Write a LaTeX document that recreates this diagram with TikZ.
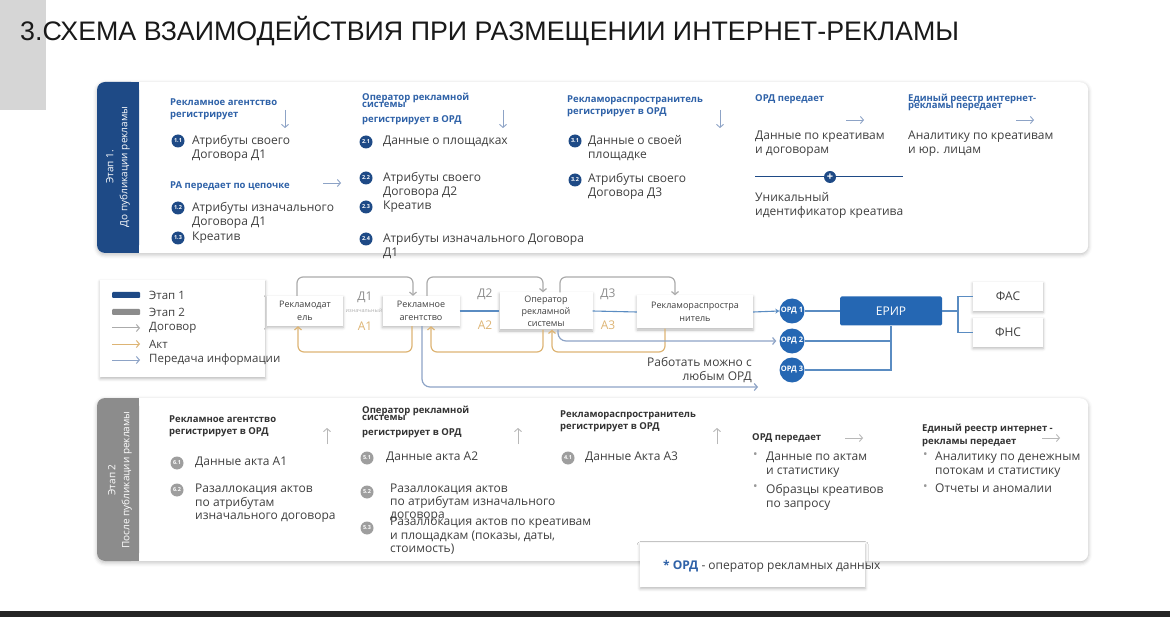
\documentclass[tikz,border=0pt]{standalone}
\usepackage{fontspec}
\setmainfont{Open Sans}
\newfontfamily\titlefont{Liberation Sans}
\usetikzlibrary{arrows.meta, shadows.blur}

\definecolor{navy}{HTML}{1E4A86}
\definecolor{headblue}{HTML}{2F62A8}
\definecolor{erirblue}{HTML}{2567B3}
\definecolor{linkblue}{HTML}{5A8CC2}
\definecolor{infoblue}{HTML}{8DA3C6}
\definecolor{actorange}{HTML}{DDB474}
\definecolor{dealgray}{HTML}{ABABAB}
\definecolor{bodygray}{HTML}{3F3F3F}
\definecolor{tabgray}{HTML}{8C8C8C}

\begin{document}
\begin{tikzpicture}[x=1pt, y=-1pt,
    panel/.style={fill=white, rounded corners=8, anchor=north west, inner sep=0pt,
        blur shadow={shadow xshift=0pt, shadow yshift=-1.5pt, shadow blur radius=4pt, shadow opacity=26}},
    card/.style={fill=white, inner sep=0pt, align=center, text=bodygray,
        font=\fontsize{9}{13}\selectfont,
        blur shadow={shadow xshift=0pt, shadow yshift=-1.5pt, shadow blur radius=3pt, shadow opacity=28}},
    head/.style={anchor=north west, inner sep=0pt, align=left, text=headblue,
        font=\bfseries\fontsize{9.5}{12}\selectfont},
    ghead/.style={head, text=black!80},
    body/.style={anchor=north west, inner sep=0pt, align=left, text=bodygray,
        font=\fontsize{12}{14}\selectfont},
    num/.style={circle, fill=navy, text=white, inner sep=0pt, minimum size=13pt,
        font=\bfseries\fontsize{5.5}{5.5}\selectfont},
    gnum/.style={num, fill=black!38},
    bul/.style={anchor=north west, inner sep=0pt, text=black!40, font=\fontsize{12}{14}\selectfont},
    ordc/.style={circle, fill=erirblue, text=white, inner sep=0pt, minimum size=25pt,
        font=\bfseries\fontsize{7.5}{7.5}\selectfont},
    tag/.style={inner sep=0pt, font=\fontsize{12}{12}\selectfont},
    legtext/.style={anchor=west, inner sep=0pt, text=bodygray, font=\fontsize{11.5}{12}\selectfont},
    deal/.style={draw=dealgray, line width=1.2pt, rounded corners=6, -{Straight Barb[length=3pt, width=7pt]}},
    act/.style={deal, draw=actorange},
    info/.style={deal, draw=infoblue, rounded corners=8},
    link/.style={draw=linkblue, line width=1.1pt},
    hint/.style={draw=#1, line width=0.9pt, -{Straight Barb[length=3pt, width=7pt]}},
    hint/.default={infoblue}
]
\useasboundingbox (0,0) rectangle (1170,620);
\fill[black!16] (0,0) rectangle (46,110);
\fill[black!85] (0,611) rectangle (1170,617);

% title
\node[anchor=west, inner sep=0pt, text=black!90, font=\titlefont\fontsize{26.8}{30}\selectfont]
    (title) at (20,31) {3.СХЕМА ВЗАИМОДЕЙСТВИЯ ПРИ РАЗМЕЩЕНИИ ИНТЕРНЕТ-РЕКЛАМЫ};

% panels
\node[panel, minimum width=991pt, minimum height=171pt] (stageone) at (97,82) {};
\node[panel, minimum width=991pt, minimum height=163pt] (stagetwo) at (97,398) {};
\fill[navy, rounded corners=8] (97,82) rectangle (139,253);
\fill[navy] (125,82) rectangle (139,253);
\fill[tabgray, rounded corners=8] (97,398) rectangle (139,561);
\fill[tabgray] (125,398) rectangle (139,561);
\node[rotate=90, text=white, align=center, font=\fontsize{10}{14}\selectfont]
    (tabone) at (118,167) {Этап 1.\\До публикации рекламы};
\node[rotate=90, text=white, align=center, font=\fontsize{10}{14}\selectfont]
    (tabtwo) at (120,480) {Этап 2\\После публикации рекламы};

% stage 1
\node[head] (hone) at (170,99) {Рекламное агентство\\регистрирует};
\node[num] (n11) at (178,141) {1.1};
\node[body] (t11) at (192,135) {Атрибуты своего\\Договора Д1};
\node[head] (hchain) at (170,181.5) {РА передает по цепочке};
\node[num] (n12) at (178,208) {1.2};
\node[body] (t12) at (192,202) {Атрибуты изначального\\Договора Д1};
\node[num] (n13) at (178,238) {1.3};
\node[body] (t13) at (192,232) {Креатив};

\node[head] (htwo) at (362,92.5) {Оператор рекламной\\[-5pt]системы\\[3pt]регистрирует в ОРД};
\node[num] (n21) at (366,142) {2.1};
\node[body] (t21) at (383,136) {Данные о площадках};
\node[num] (n22) at (366,178) {2.2};
\node[body] (t22) at (383,172) {Атрибуты своего\\Договора Д2};
\node[num] (n23) at (366,207) {2.3};
\node[body] (t23) at (383,201) {Креатив};
\node[num] (n24) at (366,239) {2.4};
\node[body] (t24) at (383,233) {Атрибуты изначального Договора\\Д1};

\node[head] (hthree) at (567,95.5) {Рекламораспространитель\\регистрирует в ОРД};
\node[num] (n31) at (575,141) {3.1};
\node[body] (t31) at (588,135) {Данные о своей\\площадке};
\node[num] (n32) at (575,180) {3.2};
\node[body] (t32) at (588,173) {Атрибуты своего\\Договора Д3};

\node[head] (hfour) at (755,94) {ОРД передает};
\node[body] (t41) at (755,131) {Данные по креативам\\и договорам};
\node[circle, fill=navy, text=white, inner sep=0pt, minimum size=12pt,
    font=\bfseries\fontsize{11}{11}\selectfont] (plus) at (830,177) {+};
\coordinate (uidl) at (755,177);
\coordinate (uidr) at (903,177);
\draw[navy, line width=1pt] (uidl) -- (plus) -- (uidr);
\node[body] (t42) at (755,192) {Уникальный\\идентификатор креатива};

\node[head] (hfive) at (908,93.5) {Единый реестр интернет-\\[-5pt]рекламы передает};
\node[body] (t51) at (908,131) {Аналитику по креативам\\и юр. лицам};

\foreach \x in {285,503,720} \draw[hint] (\x,110) -- (\x,128);
\foreach \x/\y in {323/183,846/120,1016/120} \draw[hint] (\x,\y) -- ++(18,0);

% legend
\node[card, minimum width=165pt, minimum height=97pt, anchor=north west] (legend) at (100,280) {};
\fill[navy, rounded corners=1] (112,292) rectangle (140,298);
\fill[black!45, rounded corners=1] (112,309) rectangle (140,315);
\draw[deal, rounded corners=0, line width=1pt] (112,328) -- (140,328);
\draw[act, rounded corners=0, line width=1pt] (112,344) -- (140,344);
\draw[info, rounded corners=0, line width=1pt] (112,360) -- (140,360);
\node[legtext] (lone) at (149,295) {Этап 1};
\node[legtext] (ltwo) at (149,312) {Этап 2};
\node[legtext] (ldeal) at (149,328) {Договор};
\node[legtext] (lact) at (149,344) {Акт};
\node[legtext] (linfo) at (149,360) {Передача информации};

% flow
\node[card, minimum width=76pt, minimum height=30pt] (adv) at (305,311) {Рекламодат\\ель};
\node[card, minimum width=77pt, minimum height=30pt] (agency) at (421,311) {Рекламное\\агентство};
\node[card, minimum width=93pt, minimum height=37pt, font=\fontsize{9}{12}\selectfont]
    (operator) at (546,311) {Оператор\\рекламной\\системы};
\node[card, minimum width=116pt, minimum height=33pt] (distrib) at (695,312) {Рекламораспростра\\нитель};
\node[ordc] (ord1) at (792,311) {ОРД 1};
\node[ordc] (ord2) at (792,341) {ОРД 2};
\node[ordc] (ord3) at (792,370) {ОРД 3};
\node[fill=erirblue, rounded corners=1.5, minimum width=102pt, minimum height=29pt, text=white,
    font=\fontsize{12}{12}\selectfont] (erir) at (891,311) {ЕРИР};
\node[card, minimum width=70pt, minimum height=29pt, font=\fontsize{12}{12}\selectfont] (fas) at (1008,296.5) {ФАС};
\node[card, minimum width=70pt, minimum height=29pt, font=\fontsize{12}{12}\selectfont] (fns) at (1008,332.5) {ФНС};
\coordinate (fork) at (958,311);
\coordinate (infoend) at (758,387);

\node[tag, text=black!45] (d1) at (365,297) {Д1};
\node[tag, text=black!45] (d2) at (485,294) {Д2};
\node[tag, text=black!45] (d3) at (608,294) {Д3};
\node[tag, text=black!30, font=\fontsize{5.5}{6}\selectfont] (orig) at (364,310) {изначальный};
\node[tag, text=actorange] (a1) at (365,326) {А1};
\node[tag, text=actorange] (a2) at (485,325) {А2};
\node[tag, text=actorange] (a3) at (608,325) {А3};

\draw[link] (agency.east) -- (operator.west);
\draw[link] (operator.east) -- (distrib.west);
\draw[link, -{Stealth[length=4pt, width=5pt]}] (distrib.east) -- (ord1.west);
\draw[link] (ord1.east) -- (erir.west);
\draw[link] (ord2.east) -| (erir.south);
\draw[link] (ord3.east) -| (erir.south);
\draw[link] (erir.east) -- (fork) |- (fas.west);
\draw[link] (fork) |- (fns.west);

\draw[deal] (297,0 |- adv.north) -- (297,277) -| (413,0 |- agency.north);
\draw[deal] (427,0 |- agency.north) -- (427,277) -| (543,0 |- operator.north);
\draw[deal] (560,0 |- operator.north) -- (560,277) -| (675,0 |- distrib.north);
\draw[act] (412,0 |- agency.south) -- (412,352) -| (298,0 |- adv.south);
\draw[act] (543,0 |- operator.south) -- (543,352) -| (431,0 |- agency.south);
\draw[act] (665,0 |- distrib.south) -- (665,352) -| (552,0 |- operator.south);
\draw[info] (558,0 |- operator.south) |- ([xshift=-3pt]ord2.west);
\draw[info] (422,0 |- agency.south) |- (infoend);

\node[body, anchor=north east, align=right] (anyord) at (752,357) {Работать можно с\\любым ОРД};

% stage 2
\node[ghead] (gone) at (169,415.5) {Рекламное агентство\\регистрирует в ОРД};
\node[gnum] (g61) at (177,463) {6.1};
\node[body] (s61) at (195,457) {Данные акта А1};
\node[gnum] (g62) at (177,490) {6.2};
\node[body, font=\fontsize{12}{13.5}\selectfont] (s62) at (195,484) {Разаллокация актов\\по атрибутам\\изначального договора};

\node[ghead] (gtwo) at (362,405.5) {Оператор рекламной\\[-5pt]системы\\[3pt]регистрирует в ОРД};
\node[gnum] (g51) at (367,458) {5.1};
\node[body] (s51) at (386,452) {Данные акта А2};
\node[gnum] (g52) at (367,492) {5.2};
\node[body, font=\fontsize{12}{13}\selectfont] (s52) at (390,484) {Разаллокация актов\\по атрибутам изначального\\договора};
\node[gnum] (g53) at (367,528) {5.3};
\node[body, font=\fontsize{12}{13.5}\selectfont] (s53) at (390,517) {Разаллокация актов по креативам\\и площадкам (показы, даты,\\стоимость)};

\node[ghead] (gthree) at (560,410.5) {Рекламораспространитель\\регистрирует в ОРД};
\node[gnum] (g41) at (568,458) {4.1};
\node[body] (s41) at (585,452) {Данные Акта А3};

\node[ghead] (gfour) at (752,433.5) {ОРД передает};
\node[bul] (b41) at (753,452) {•};
\node[body] (s42) at (766,452) {Данные по актам\\и статистику};
\node[bul] (b42) at (753,484) {•};
\node[body] (s43) at (766,484) {Образцы креативов\\по запросу};

\node[ghead] (gfive) at (922,423.5) {Единый реестр интернет -\\[1pt]рекламы передает};
\node[bul] (b51) at (923,452) {•};
\node[body] (s54) at (935,452) {Аналитику по денежным\\потокам и статистику};
\node[bul] (b52) at (923,484) {•};
\node[body] (s55) at (935,484) {Отчеты и аномалии};

\foreach \x in {327,518,717} \draw[hint=black!28] (\x,444) -- (\x,428);
\foreach \x in {845,1042} \draw[hint=black!28] (\x,438) -- ++(18,0);

% footnote
\node[card, minimum width=225pt, minimum height=44pt, anchor=north west] (notebox) at (640,543) {};
\node[anchor=west, inner sep=0pt, text=bodygray, font=\fontsize{12}{13}\selectfont]
    (note) at (663,566) {\textcolor{headblue}{\bfseries * ОРД} - оператор рекламных данных};
\end{tikzpicture}
\end{document}
